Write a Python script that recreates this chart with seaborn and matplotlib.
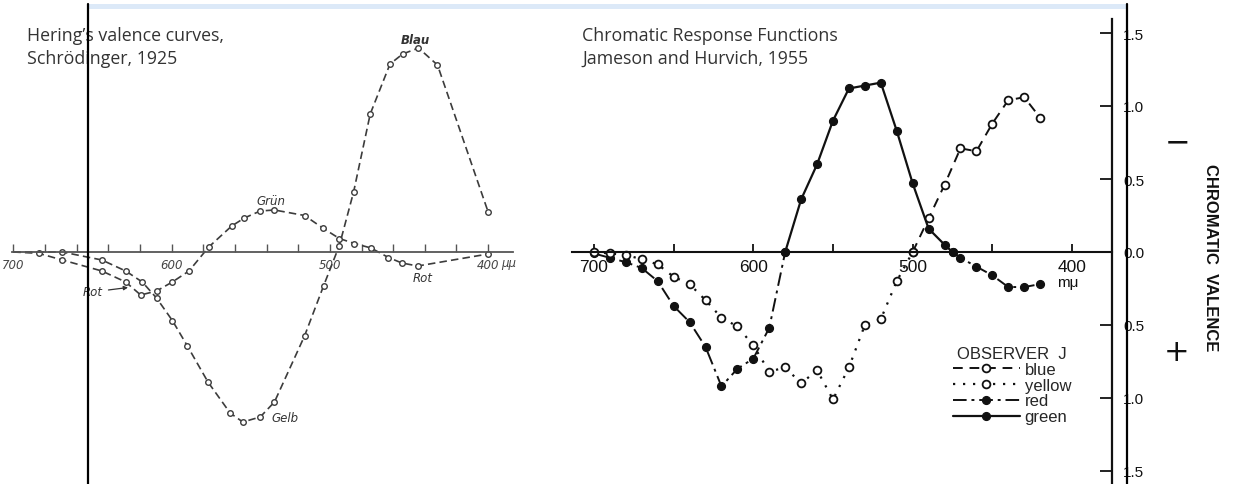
import numpy as np
import pandas as pd
import matplotlib
matplotlib.use("Agg")
import matplotlib.pyplot as plt
import seaborn as sns
from matplotlib.lines import Line2D
from matplotlib.patches import Rectangle
from matplotlib.legend_handler import HandlerLine2D

# ---------------- Left panel: Hering's valence curves (Schrödinger, 1925) ----------------
# red-green curve (Rot -> Grün -> Rot), arbitrary valence units
rg_wl = [700, 684, 669, 644, 629, 619.5, 609.5, 599.5, 589, 576.5, 562, 554, 544, 535,
         516, 504.5, 494, 484.5, 474, 463, 454.5, 444.5, 400]
rg_val = [0.0, -0.013, -0.08, -0.19, -0.30, -0.43, -0.39, -0.30, -0.19, 0.05, 0.26, 0.34,
          0.41, 0.42, 0.365, 0.24, 0.135, 0.085, 0.04, -0.055, -0.11, -0.14, -0.02]
# yellow-blue curve (Gelb -> Blau)
yb_wl = [700, 669, 644, 629, 618.5, 609.5, 599.5, 590, 577, 563, 555, 544, 535, 516,
         504, 494, 485, 474.5, 462, 454, 444, 432, 400]
yb_val = [0.0, 0.0, -0.08, -0.19, -0.30, -0.46, -0.685, -0.94, -1.30, -1.61, -1.70, -1.65,
          -1.50, -0.84, -0.34, 0.065, 0.60, 1.38, 1.88, 1.98, 2.04, 1.87, 0.40]
left_major = [700, 600, 500, 400]
left_minor = [680, 660, 640, 620, 580, 560, 540, 520, 480, 460, 440, 420]

# ---------------- Right panel: Chromatic response functions (Jameson & Hurvich, 1955) ----
red_wl_long = [700, 690, 680, 670, 660, 650, 640, 630, 620, 610, 600, 590, 580]
red_val_long = [-0.01, -0.04, -0.07, -0.11, -0.20, -0.37, -0.48, -0.65, -0.92, -0.80,
                -0.73, -0.52, 0.0]
red_wl_short = [475, 470, 460, 450, 440, 430, 420]
red_val_short = [0.0, -0.04, -0.10, -0.16, -0.24, -0.24, -0.22]
green_wl = [580, 570, 560, 550, 540, 530, 520, 510, 500, 490, 480, 475]
green_val = [0.0, 0.36, 0.60, 0.90, 1.12, 1.14, 1.16, 0.83, 0.47, 0.16, 0.05, 0.0]
blue_wl = [500, 490, 480, 470, 460, 450, 440, 430, 420]
blue_val = [0.0, 0.23, 0.46, 0.71, 0.69, 0.88, 1.04, 1.06, 0.92]
yellow_wl = [700, 690, 680, 670, 660, 650, 640, 630, 620, 610, 600, 590, 580, 570, 560,
             550, 540, 530, 520, 510, 500]
yellow_val = [0.0, -0.01, -0.02, -0.05, -0.085, -0.17, -0.22, -0.33, -0.45, -0.51, -0.64,
              -0.82, -0.79, -0.90, -0.81, -1.01, -0.79, -0.50, -0.46, -0.20, 0.0]
right_major = [700, 600, 500, 400]
right_minor = [650, 550, 450]
right_yticks = [1.5, 1.0, 0.5, 0.0, -0.5, -1.0, -1.5]
right_ylabels = ["1.5", "1.0", "0.5", "0.0", "0.5", "1.0", "1.5"]
legend_labels = ["blue", "yellow", "red", "green"]

# ---------------- figure ----------------
sns.set_style("white")
plt.rcParams["font.family"] = ["Open Sans", "DejaVu Sans"]
NARROW = ["Liberation Sans Narrow", "Liberation Sans", "DejaVu Sans"]

W, H = 1238, 485
fig = plt.figure(figsize=(W / 100, H / 100), dpi=100)
fig.patch.set_facecolor("white")


def fx(x):
    return x / W


def fy(y):
    return 1 - y / H


# ---- left axes
axL = fig.add_axes([fx(12), 0, (513 - 12) / W, 1])
axL.set_facecolor("none")
gray = "#3c3c3c"
for wl, val in ((rg_wl, rg_val), (yb_wl, yb_val)):
    df = pd.DataFrame({"wl": wl, "val": val})
    sns.lineplot(data=df, x="wl", y="val", ax=axL, estimator=None, sort=False,
                 color=gray, lw=1.2, linestyle=(0, (4.5, 2.5)), marker="o",
                 markersize=4.0, mfc="white", mec=gray, mew=1.0,
                 markevery=list(range(1, len(wl))))
axL.set_xlim(700.8, 384.3)
axL.set_ylim(-2.32, 2.53)
axL.set_xlabel("")
axL.set_ylabel("")
for s in ("left", "right", "top"):
    axL.spines[s].set_visible(False)
axL.spines["bottom"].set_position(("data", 0))
axL.spines["bottom"].set_color("#555555")
axL.spines["bottom"].set_linewidth(1.3)
axL.set_yticks([])
axL.set_xticks(left_major)
axL.set_xticks(left_minor, minor=True)
axL.set_xticklabels([str(v) for v in left_major], fontstyle="italic", fontsize=8.5,
                    color="#444444", family=["DejaVu Sans"])
axL.tick_params(axis="x", which="both", direction="in", length=6, width=1.0,
                color="#555555", pad=4, bottom=True)
axL.text(392.0, -0.1, "μμ", fontstyle="italic", fontsize=8.5, color="#444444",
         ha="left", va="center", family=["DejaVu Sans"])
lab_kw = dict(fontstyle="italic", fontsize=8.5, color="#333333", family=["DejaVu Sans"],
              ha="center", va="center")
axL.text(446.2, 2.12, "Blau", fontweight="bold", **lab_kw)
axL.text(537.2, 0.51, "Grün", **lab_kw)
axL.text(528.4, -1.65, "Gelb", **lab_kw)
axL.text(441.2, -0.25, "Rot", **lab_kw)
axL.annotate("Rot", xy=(627.5, -0.355), xytext=(650, -0.40),
             arrowprops=dict(arrowstyle="-|>", color="#333333", lw=0.9,
                             mutation_scale=6, shrinkA=2, shrinkB=0),
             **lab_kw)

# ---- right axes
axR = fig.add_axes([fx(572), 0, (1112 - 572) / W, 1 - 20 / H])
axR.set_facecolor("none")
ink = "#111111"
MS = 5.6
red_lines = []
for wl, val in ((red_wl_long, red_val_long), (red_wl_short, red_val_short)):
    sns.lineplot(data=pd.DataFrame({"wl": wl, "val": val}), x="wl", y="val", ax=axR,
                 estimator=None, sort=False, color=ink, lw=1.4,
                 linestyle=(0, (7, 2.5, 1.5, 2.5)), marker="o", markersize=MS,
                 mfc=ink, mec=ink, mew=1.0)
    red_lines.append(axR.lines[-1])
sns.lineplot(data=pd.DataFrame({"wl": green_wl, "val": green_val}), x="wl", y="val",
             ax=axR, estimator=None, sort=False, color=ink, lw=1.6, linestyle="-",
             marker="o", markersize=MS, mfc=ink, mec=ink, mew=1.0)
green_line = axR.lines[-1]
sns.lineplot(data=pd.DataFrame({"wl": blue_wl, "val": blue_val}), x="wl", y="val",
             ax=axR, estimator=None, sort=False, color=ink, lw=1.4,
             linestyle=(0, (5, 3.5)), marker="o", markersize=MS, mfc="white",
             mec=ink, mew=1.3)
blue_line = axR.lines[-1]
sns.lineplot(data=pd.DataFrame({"wl": yellow_wl, "val": yellow_val}), x="wl", y="val",
             ax=axR, estimator=None, sort=False, color=ink, lw=1.6,
             linestyle=(0, (1, 3.5)), marker="o", markersize=MS, mfc="white",
             mec=ink, mew=1.3)
yellow_line = axR.lines[-1]

axR.set_xlim(713.8, 374.9)
axR.set_ylim(-(H - 253) / 146, (253 - 20) / 146)
axR.set_xlabel("")
axR.set_ylabel("")
for s in ("left", "top"):
    axR.spines[s].set_visible(False)
axR.spines["bottom"].set_position(("data", 0))
axR.spines["bottom"].set_color(ink)
axR.spines["bottom"].set_linewidth(1.5)
axR.spines["right"].set_color(ink)
axR.spines["right"].set_linewidth(1.6)
axR.set_xticks(right_major)
axR.set_xticks(right_minor, minor=True)
axR.set_xticklabels([str(v) for v in right_major], fontsize=12.5, color=ink,
                    family=["Liberation Sans", "DejaVu Sans"])
axR.tick_params(axis="x", which="both", direction="in", length=6, width=1.3,
                color=ink, pad=5, bottom=True)
axR.yaxis.tick_right()
axR.set_yticks(right_yticks)
axR.set_yticklabels(right_ylabels, fontsize=11, color=ink,
                    family=["Liberation Sans", "DejaVu Sans"])
axR.tick_params(axis="y", which="both", direction="in", length=9, width=1.3,
                color=ink, pad=8, right=True, left=False)
axR.text(402.5, -0.205, "mμ", fontsize=11, color=ink, ha="center", va="center",
         family=["Liberation Sans", "DejaVu Sans"])


class SpreadHandler(HandlerLine2D):
    def get_xdata(self, legend, xdescent, ydescent, width, height, fontsize):
        x0 = -xdescent
        return (np.array([x0, x0 + width]),
                np.array([x0 + 0.24 * width, x0 + 0.76 * width]))


leg = axR.legend([blue_line, yellow_line, red_lines[0], green_line], legend_labels,
                 loc="upper left", bbox_to_anchor=(fx(953), fy(347)),
                 bbox_transform=fig.transFigure, frameon=False,
                 title="OBSERVER  J", handlelength=4.0, handletextpad=0.3,
                 labelspacing=0.05, borderpad=0, borderaxespad=0,
                 handler_map={Line2D: SpreadHandler()},
                 prop={"family": NARROW, "size": 12})
leg.get_title().set_fontfamily(NARROW)
leg.get_title().set_fontsize(12)

# ---- titles and side annotations
title_kw = dict(fontsize=12.8, color="#333333", va="baseline", ha="left")
fig.text(fx(27), fy(41), "Hering’s valence curves,", **title_kw)
fig.text(fx(27), fy(64), "Schrödinger, 1925", **title_kw)
fig.text(fx(582), fy(41), "Chromatic Response Functions", **title_kw)
fig.text(fx(582), fy(64), "Jameson and Hurvich, 1955", **title_kw)

fig.text(fx(1210), fy(258), "CHROMATIC  VALENCE", rotation=270, ha="center",
         va="center", fontsize=12, fontweight="bold", color=ink, family=NARROW)
fig.text(fx(1177), fy(143), "−", ha="center", va="center", fontsize=22, color=ink,
         family=["DejaVu Sans"])
fig.text(fx(1177), fy(353), "+", ha="center", va="center", fontsize=22, color=ink,
         family=["DejaVu Sans"])

# ---- screenshot frame artefacts: light blue bar and two black vertical rules
fig.add_artist(Rectangle((fx(88), fy(10)), (1126 - 88) / W, 5 / H,
                         transform=fig.transFigure, color="#dce9f8", lw=0, zorder=9))
fig.add_artist(Line2D([fx(87.5), fx(87.5)], [fy(5), 0], transform=fig.transFigure,
                      color="black", lw=1.6, zorder=10))
fig.add_artist(Line2D([fx(1126.5), fx(1126.5)], [fy(5), 0], transform=fig.transFigure,
                      color="black", lw=1.6, zorder=10))

fig.savefig("out.png", dpi=100, facecolor="white")
